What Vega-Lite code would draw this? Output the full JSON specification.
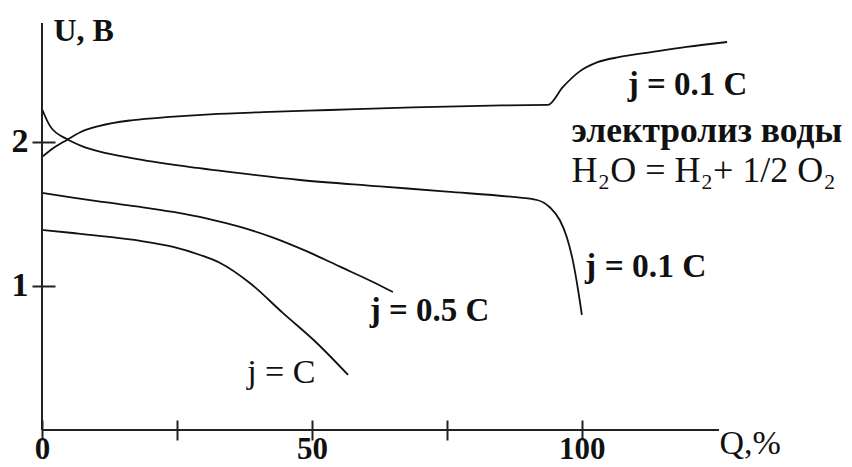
{
  "$schema": "https://vega.github.io/schema/vega-lite/v6.json",
  "autosize": {"type": "none"},
  "width": 677,
  "height": 407,
  "padding": {"left": 42, "top": 23, "right": 133, "bottom": 37},
  "background": "white",
  "config": {
    "view": {"stroke": null},
    "font": "Liberation Serif",
    "axis": {"grid": false, "domain": false, "tickColor": "#222", "tickWidth": 2, "labelColor": "#111", "titleColor": "#111", "labelFont": "Liberation Serif", "titleFont": "Liberation Serif"}
  },
  "datasets": {
    "curves": [
      {"curve": "charge 0.1C", "Q": 0, "U": 1.896},
      {"curve": "charge 0.1C", "Q": 2.2, "U": 1.96},
      {"curve": "charge 0.1C", "Q": 4.6, "U": 2.014},
      {"curve": "charge 0.1C", "Q": 7.0, "U": 2.066},
      {"curve": "charge 0.1C", "Q": 10.7, "U": 2.112},
      {"curve": "charge 0.1C", "Q": 16.9, "U": 2.152},
      {"curve": "charge 0.1C", "Q": 23.7, "U": 2.174},
      {"curve": "charge 0.1C", "Q": 31.1, "U": 2.192},
      {"curve": "charge 0.1C", "Q": 40.9, "U": 2.207},
      {"curve": "charge 0.1C", "Q": 53.3, "U": 2.222},
      {"curve": "charge 0.1C", "Q": 68.7, "U": 2.24},
      {"curve": "charge 0.1C", "Q": 85.2, "U": 2.254},
      {"curve": "charge 0.1C", "Q": 93.7, "U": 2.257},
      {"curve": "charge 0.1C", "Q": 96.5, "U": 2.382},
      {"curve": "charge 0.1C", "Q": 99.6, "U": 2.49},
      {"curve": "charge 0.1C", "Q": 102.8, "U": 2.552},
      {"curve": "charge 0.1C", "Q": 107.0, "U": 2.59},
      {"curve": "charge 0.1C", "Q": 113.1, "U": 2.625},
      {"curve": "charge 0.1C", "Q": 119.4, "U": 2.66},
      {"curve": "charge 0.1C", "Q": 126.9, "U": 2.694},
      {"curve": "discharge 0.1C", "Q": 0, "U": 2.229},
      {"curve": "discharge 0.1C", "Q": 1.5, "U": 2.11},
      {"curve": "discharge 0.1C", "Q": 4.6, "U": 2.02},
      {"curve": "discharge 0.1C", "Q": 7.6, "U": 1.968},
      {"curve": "discharge 0.1C", "Q": 10.7, "U": 1.933},
      {"curve": "discharge 0.1C", "Q": 16.9, "U": 1.886},
      {"curve": "discharge 0.1C", "Q": 25.6, "U": 1.835},
      {"curve": "discharge 0.1C", "Q": 35.0, "U": 1.79},
      {"curve": "discharge 0.1C", "Q": 47.8, "U": 1.736},
      {"curve": "discharge 0.1C", "Q": 62.6, "U": 1.692},
      {"curve": "discharge 0.1C", "Q": 75.0, "U": 1.655},
      {"curve": "discharge 0.1C", "Q": 87.2, "U": 1.618},
      {"curve": "discharge 0.1C", "Q": 91.7, "U": 1.597},
      {"curve": "discharge 0.1C", "Q": 94.1, "U": 1.545},
      {"curve": "discharge 0.1C", "Q": 95.9, "U": 1.458},
      {"curve": "discharge 0.1C", "Q": 97.2, "U": 1.34},
      {"curve": "discharge 0.1C", "Q": 98.3, "U": 1.181},
      {"curve": "discharge 0.1C", "Q": 99.3, "U": 0.972},
      {"curve": "discharge 0.1C", "Q": 100.0, "U": 0.799},
      {"curve": "discharge 0.5C", "Q": 0, "U": 1.646},
      {"curve": "discharge 0.5C", "Q": 5.7, "U": 1.613},
      {"curve": "discharge 0.5C", "Q": 12.0, "U": 1.58},
      {"curve": "discharge 0.5C", "Q": 18.2, "U": 1.549},
      {"curve": "discharge 0.5C", "Q": 24.3, "U": 1.514},
      {"curve": "discharge 0.5C", "Q": 30.6, "U": 1.468},
      {"curve": "discharge 0.5C", "Q": 36.7, "U": 1.41},
      {"curve": "discharge 0.5C", "Q": 42.8, "U": 1.336},
      {"curve": "discharge 0.5C", "Q": 49.1, "U": 1.24},
      {"curve": "discharge 0.5C", "Q": 55.2, "U": 1.134},
      {"curve": "discharge 0.5C", "Q": 61.3, "U": 1.028},
      {"curve": "discharge 0.5C", "Q": 65.0, "U": 0.958},
      {"curve": "discharge C", "Q": 0, "U": 1.389},
      {"curve": "discharge C", "Q": 5.7, "U": 1.368},
      {"curve": "discharge C", "Q": 12.0, "U": 1.343},
      {"curve": "discharge C", "Q": 18.2, "U": 1.313},
      {"curve": "discharge C", "Q": 24.3, "U": 1.271},
      {"curve": "discharge C", "Q": 29.3, "U": 1.215},
      {"curve": "discharge C", "Q": 33.0, "U": 1.16},
      {"curve": "discharge C", "Q": 38.5, "U": 1.021},
      {"curve": "discharge C", "Q": 44.6, "U": 0.813},
      {"curve": "discharge C", "Q": 50.9, "U": 0.604},
      {"curve": "discharge C", "Q": 56.7, "U": 0.382}
    ],
    "labels": [
      {"text": "j = 0.1 C", "Q": 108.5, "U": 2.326, "size": 33, "weight": "bold"},
      {"text": "электролиз воды", "Q": 98.1, "U": 2.0, "size": 35.5, "weight": "bold"},
      {"text": "H₂O = H₂+ 1/2 O₂", "Q": 98.1, "U": 1.722, "size": 36, "weight": "normal"},
      {"text": "j = 0.1 C", "Q": 100.6, "U": 1.063, "size": 33.5, "weight": "bold"},
      {"text": "j = 0.5 C", "Q": 60.7, "U": 0.757, "size": 33, "weight": "bold"},
      {"text": "j = C", "Q": 38.0, "U": 0.326, "size": 34, "weight": "normal"}
    ]
  },
  "layer": [
    {
      "data": {"name": "curves"},
      "mark": {"type": "line", "color": "#111", "strokeWidth": 1.8, "clip": false, "interpolate": "monotone"},
      "encoding": {
        "x": {
          "field": "Q", "type": "quantitative",
          "scale": {"domain": [0, 125.4], "nice": false, "zero": false},
          "axis": {
            "orient": "bottom", "offset": -10, "tickSize": 20,
            "values": [0, 25, 50, 75, 100],
            "labelExpr": "datum.value % 50 === 0 ? datum.label : ''",
            "labelFontSize": 31, "labelFontWeight": "bold", "labelPadding": -6,
            "labelFlush": false, "labelOverlap": false,
            "title": "Q,%", "titleFontSize": 34, "titleFontWeight": "normal",
            "titleAnchor": null, "titleAlign": "left", "titleBaseline": "alphabetic",
            "titleX": 677, "titleY": 33
          }
        },
        "y": {
          "field": "U", "type": "quantitative",
          "scale": {"domain": [0, 2.826], "nice": false, "zero": false},
          "axis": {
            "orient": "left", "offset": -13, "tickSize": 23,
            "values": [1, 2], "format": "d",
            "labelFontSize": 34, "labelFontWeight": "bold", "labelPadding": 4,
            "title": "U, B", "titleFontSize": 32, "titleFontWeight": "bold",
            "titleAngle": 0, "titleAnchor": null, "titleAlign": "left", "titleBaseline": "alphabetic",
            "titleX": -2, "titleY": 17
          }
        },
        "detail": {"field": "curve"}
      }
    },
    {
      "data": {"values": [{}]},
      "mark": {"type": "rule", "color": "#222", "strokeWidth": 2},
      "encoding": {"x": {"datum": 0, "type": "quantitative"}}
    },
    {
      "data": {"values": [{}]},
      "mark": {"type": "rule", "color": "#222", "strokeWidth": 2},
      "encoding": {"y": {"datum": 0, "type": "quantitative"}}
    },
    {
      "data": {"name": "labels"},
      "transform": [{"filter": "datum.weight === 'bold'"}],
      "mark": {"type": "text", "align": "left", "baseline": "alphabetic", "color": "#111", "font": "Liberation Serif", "fontWeight": "bold"},
      "encoding": {
        "x": {"field": "Q", "type": "quantitative"},
        "y": {"field": "U", "type": "quantitative"},
        "text": {"field": "text"},
        "size": {"field": "size", "type": "quantitative", "scale": null}
      }
    },
    {
      "data": {"name": "labels"},
      "transform": [{"filter": "datum.weight === 'normal'"}],
      "mark": {"type": "text", "align": "left", "baseline": "alphabetic", "color": "#111", "font": "Liberation Serif", "fontWeight": "normal"},
      "encoding": {
        "x": {"field": "Q", "type": "quantitative"},
        "y": {"field": "U", "type": "quantitative"},
        "text": {"field": "text"},
        "size": {"field": "size", "type": "quantitative", "scale": null}
      }
    }
  ]
}
